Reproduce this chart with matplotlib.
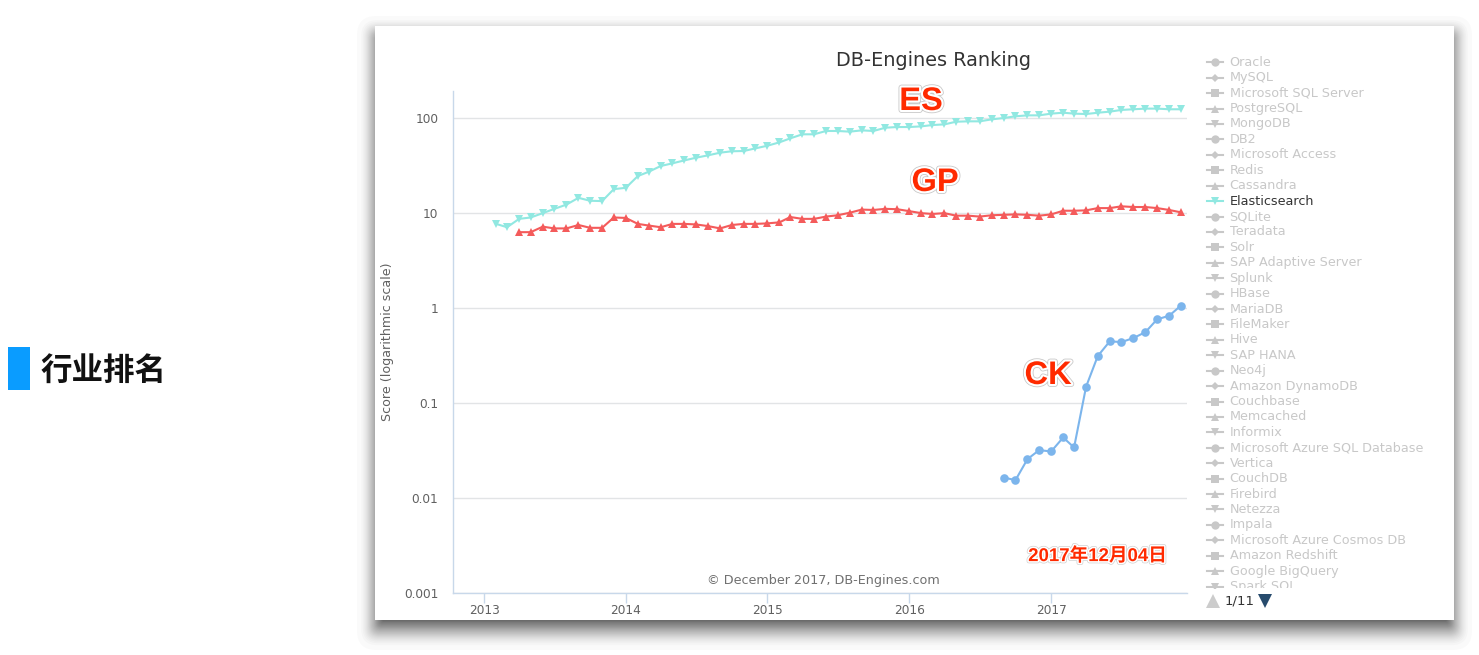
import matplotlib
matplotlib.use('Agg')
import matplotlib.pyplot as plt
import matplotlib.patheffects as pe
from matplotlib.patches import Rectangle, FancyBboxPatch
from matplotlib.dates import date2num
import pandas as pd

W, H = 1479, 655

# Данi зчитанi з графiка (помiсячно)
es_scores = [7.7, 7.1, 8.7, 9.0, 10, 11.1, 12.3, 14.5, 13.5, 13.4, 17.9, 18.5,
             24.6, 27.3, 31.4, 33.5, 36, 38.4, 40.7, 43.4, 44.9, 45.2, 48.2, 51.4,
             55.8, 61.5, 67.8, 67.8, 73.5, 73.5, 72.3, 74.6, 73.5, 79.6, 80.9, 80.9,
             82.2, 84.9, 86.3, 92, 92.9, 92.9, 97.5, 100.7, 105, 107.4, 107.4, 112,
             114.5, 112, 110.9, 114.5, 117.5, 122.5, 124.5, 126.5, 126.5, 124.5, 124.5]
gp_scores = [6.3, 6.3, 7.2, 6.9, 6.9, 7.5, 7.0, 7.0, 9.0, 8.9,
             7.7, 7.4, 7.1, 7.7, 7.7, 7.6, 7.3, 6.9, 7.5, 7.7, 7.7, 7.8,
             8.0, 9.1, 8.7, 8.7, 9.2, 9.5, 10.1, 10.9, 10.8, 11.1, 11.0, 10.5,
             10, 9.8, 10, 9.4, 9.4, 9.2, 9.5, 9.6, 9.7, 9.6, 9.4, 9.7,
             10.6, 10.6, 10.7, 11.3, 11.3, 11.8, 11.6, 11.6, 11.3, 10.8, 10.2]
ck_scores = [0.0163, 0.0153, 0.0255, 0.0317, 0.0307, 0.0431, 0.0338, 0.148,
             0.311, 0.445, 0.437, 0.482, 0.557, 0.759, 0.828, 1.057]

es_start, gp_start, ck_start = '2013-02-01', '2013-04-01', '2016-09-01'
year_ticks = [2013, 2014, 2015, 2016, 2017]
score_ticks = [100, 10, 1, 0.1, 0.01, 0.001]
score_labels = ['100', '10', '1', '0.1', '0.01', '0.001']

legend_names = ['Oracle', 'MySQL', 'Microsoft SQL Server', 'PostgreSQL', 'MongoDB', 'DB2',
                'Microsoft Access', 'Redis', 'Cassandra', 'Elasticsearch', 'SQLite', 'Teradata',
                'Solr', 'SAP Adaptive Server', 'Splunk', 'HBase', 'MariaDB', 'FileMaker', 'Hive',
                'SAP HANA', 'Neo4j', 'Amazon DynamoDB', 'Couchbase', 'Memcached', 'Informix',
                'Microsoft Azure SQL Database', 'Vertica', 'CouchDB', 'Firebird', 'Netezza',
                'Impala', 'Microsoft Azure Cosmos DB', 'Amazon Redshift', 'Google BigQuery',
                'Spark SQL']
legend_markers = ['o', 'D', 's', '^', 'v']

ES_COLOR = '#91e8e1'
GP_COLOR = '#f45b5b'
CK_COLOR = '#7cb5ec'
AXIS_COLOR = '#c8d8ea'
GRID_COLOR = '#e2e4e6'
LEGEND_GRAY = '#c8c8c8'
RED = '#ff2a00'

plt.rcParams['font.family'] = ['DejaVu Sans', 'Noto Sans CJK SC']

fig = plt.figure(figsize=(W / 100, H / 100), dpi=100, facecolor='white')

# Шар у пiкселях для картки, тiнi й пiдписiв
page = fig.add_axes([0, 0, 1, 1], zorder=0)
page.set_xlim(0, W)
page.set_ylim(H, 0)
page.axis('off')

# Тiнь картки: шари вiд зовнiшнього до внутрiшнього, густiше ближче до краю
layers = 40
for i in range(layers):
    t = (i / (layers - 1)) ** 0.5
    x0 = 357 + 26 * t
    x1 = 1472 - 26 * t
    y0 = 16 + 26 * t
    y1 = 650 - 30 * t
    page.add_patch(FancyBboxPatch((x0, y0), x1 - x0, y1 - y0,
                                  boxstyle=f'round,pad=0,rounding_size={18 * (1 - t) + 1}',
                                  facecolor='black', edgecolor='none', alpha=0.02, zorder=1))
page.add_patch(Rectangle((375, 26), 1079, 594, facecolor='white', edgecolor='none', zorder=2))

# Заголовок слайда
page.add_patch(Rectangle((8, 347), 22, 43, facecolor='#0a9cff', edgecolor='none', zorder=2))
page.text(41, 370.5, '行业排名', fontsize=22.7, fontweight='bold', color='#111111', va='center',
          family=['Noto Sans CJK SC', 'DejaVu Sans'], zorder=3)

# Основний графiк
left, right, top, bottom = 453.5, 1187, 91, 592.5
ax = fig.add_axes([left / W, 1 - bottom / H, (right - left) / W, (bottom - top) / H], zorder=1)
ax.patch.set_alpha(0)
ax.set_yscale('log')
ax.set_ylim(0.001, 194)
ax.set_xlim(date2num(pd.Timestamp('2012-10-14')), date2num(pd.Timestamp('2017-12-17')))

for start, scores, color, marker, size in [(es_start, es_scores, ES_COLOR, 'v', 6.0),
                                           (gp_start, gp_scores, GP_COLOR, '^', 6.0),
                                           (ck_start, ck_scores, CK_COLOR, 'o', 6.2)]:
    months = pd.date_range(start, periods=len(scores), freq='MS')
    ax.plot(months, scores, color=color, lw=1.5, marker=marker, ms=size, mew=0, zorder=3)

ax.set_yticks(score_ticks)
ax.set_yticklabels(score_labels)
ax.minorticks_off()
ax.set_xticks([date2num(pd.Timestamp(f'{y}-01-01')) for y in year_ticks])
ax.set_xticklabels([str(y) for y in year_ticks])
ax.tick_params(axis='y', length=0, pad=11, labelsize=8.7, labelcolor='#606060')
ax.tick_params(axis='x', length=7.2, width=1, color=AXIS_COLOR, pad=1, labelsize=8.7, labelcolor='#606060')
ax.grid(axis='y', color=GRID_COLOR, lw=1)
ax.set_axisbelow(True)
for side in ['top', 'right']:
    ax.spines[side].set_visible(False)
for side in ['left', 'bottom']:
    ax.spines[side].set_color(AXIS_COLOR)
    ax.spines[side].set_linewidth(1)

# Текст поверх графiка
over = fig.add_axes([0, 0, 1, 1], zorder=2)
over.set_xlim(0, W)
over.set_ylim(H, 0)
over.axis('off')

over.text(933.5, 60, 'DB-Engines Ranking', fontsize=13.85, color='#333333', ha='center', va='center')
over.text(388, 341.5, 'Score (logarithmic scale)', fontsize=9.1, color='#606060', rotation=90,
          ha='center', va='center')
over.text(823.5, 580.5, '© December 2017, DB-Engines.com', fontsize=9.15, color='#707070',
          ha='center', va='center')

label_fx = [pe.withStroke(linewidth=4.2, foreground='#c8c8c8'), pe.withStroke(linewidth=3, foreground='white')]
for text, x, y in [('ES', 921, 101.5), ('GP', 935, 182.5), ('CK', 1048, 375.5)]:
    over.text(x, y, text, fontsize=23.5, fontweight='bold', color=RED, ha='center', va='center',
              family='Liberation Sans', path_effects=label_fx)
over.text(1097.5, 556, '2017年12月04日', fontsize=13.4, fontweight='bold', color=RED, ha='center', va='center',
          family=['Liberation Sans', 'Noto Sans CJK SC'],
          path_effects=[pe.withStroke(linewidth=3.2, foreground='#d0d0d0'), pe.withStroke(linewidth=2.2, foreground='white')])

# Легенда
clip = Rectangle((1200, 50), 240, 538, transform=over.transData)
for i, name in enumerate(legend_names):
    y = 62.3 + i * 15.42
    active = name == 'Elasticsearch'
    color = ES_COLOR if active else LEGEND_GRAY
    line, = over.plot([1207, 1223], [y, y], color=color, lw=1.5, marker=None)
    dot, = over.plot([1215], [y], color=color, marker=legend_markers[i % 5], ms=6 if i % 5 != 1 else 4, mew=0)
    txt = over.text(1229.5, y, name, fontsize=9.2, color='#333333' if active else LEGEND_GRAY, va='center')
    for artist in (line, dot, txt):
        artist.set_clip_path(clip)
    txt.set_clip_on(True)

# Пейджер
over.plot([1213], [601], marker='^', color='#cccccc', ms=9.5, mew=0)
over.plot([1265], [601], marker='v', color='#274b6d', ms=9.5, mew=0)
over.text(1239.5, 601, '1/11', fontsize=9.5, color='#333333', ha='center', va='center')

over.set_xlim(0, W)
over.set_ylim(H, 0)
fig.savefig('out.png', dpi=100, facecolor='white')
